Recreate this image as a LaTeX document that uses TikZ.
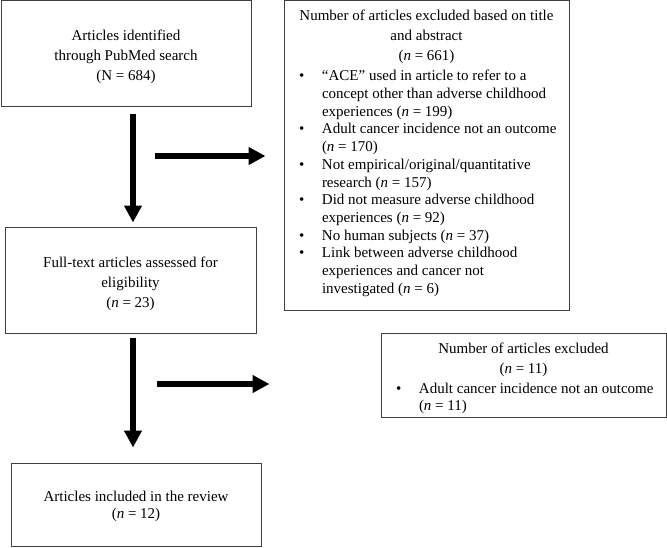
\documentclass[tikz,border=0pt]{standalone}
\usepackage{fontspec}
\setmainfont{Liberation Serif}
\usetikzlibrary{arrows.meta}
\tikzset{
  box/.style={draw=black!75,line width=1pt,rectangle,inner sep=0pt,align=center,
    font=\fontsize{15}{20}\selectfont},
  flow/.style={-{Triangle[length=17pt,width=17pt]},line width=5.5pt},
}
\newcommand{\bitem}[1]{\par\hangindent=23pt\hangafter=1\noindent\makebox[23pt][l]{\textbullet}#1}

\begin{document}
\begin{tikzpicture}[x=1pt,y=-1pt]
  \useasboundingbox (0,0) rectangle (667,547);

  \node[box,minimum width=250pt,minimum height=106pt] (ident) at (126,53)
    {\rule{0pt}{18pt}Articles identified\\through PubMed search\\(N = 684)};
  \node[box,minimum width=251pt,minimum height=106pt] (full) at (130.5,280)
    {\rule{0pt}{18pt}Full-text articles assessed for\\eligibility\\(\textit{n} = 23)};
  \node[box,minimum width=250pt,minimum height=83pt,font=\fontsize{15}{17}\selectfont] (incl) at (136,504.5)
    {\rule{0pt}{14.5pt}Articles included in the review\\(\textit{n} = 12)};

  \node[box,minimum width=285pt,minimum height=310pt] (excl) at (426.5,155) {\hspace*{10pt}\begin{minipage}{265pt}
    {\centering\rightskip=10pt plus 1fil\fontsize{15}{20}\selectfont Number of articles excluded based on title\\and abstract\\(\textit{n} = 661)\par}
    \vspace{3pt}\fontsize{15}{17.7}\selectfont\rightskip=0pt plus 1fil
    \bitem{“ACE” used in article to refer to a\newline concept other than adverse childhood\newline experiences (\textit{n} = 199)}
    \bitem{Adult cancer incidence not an outcome\newline (\textit{n} = 170)}
    \bitem{Not empirical/original/quantitative\newline research (\textit{n} = 157)}
    \bitem{Did not measure adverse childhood\newline experiences (\textit{n} = 92)}
    \bitem{No human subjects (\textit{n} = 37)}
    \bitem{Link between adverse childhood\newline experiences and cancer not\newline investigated (\textit{n} = 6)}\par
    \vspace{4pt}
  \end{minipage}};

  \node[box,minimum width=285pt,minimum height=84pt] (exfull) at (523.5,375) {\hspace*{10pt}\begin{minipage}{265pt}
    \vspace*{6pt}
    {\centering\rightskip=10pt plus 1fil\fontsize{15}{20}\selectfont Number of articles excluded\\(\textit{n} = 11)\par}
    \vspace{3pt}\fontsize{15}{17}\selectfont\rightskip=0pt plus 1fil
    \bitem{Adult cancer incidence not an outcome\newline (\textit{n} = 11)}\par
  \end{minipage}};

  \coordinate (e1) at (155,156);
  \coordinate (e2) at (157,384);

  \draw[flow,shorten <=7pt,shorten >=4pt] ([xshift=7pt]ident.south) -- ([xshift=7pt]ident.south |- full.north);
  \draw[flow,shorten <=4pt,shorten >=15pt] ([xshift=2.5pt]full.south) -- ([xshift=2.5pt]full.south |- incl.north);
  \draw[flow,shorten >=18pt] (e1) -- (e1 -| excl.west);
  \draw[flow,shorten >=111pt] (e2) -- (e2 -| exfull.west);
\end{tikzpicture}
\end{document}
